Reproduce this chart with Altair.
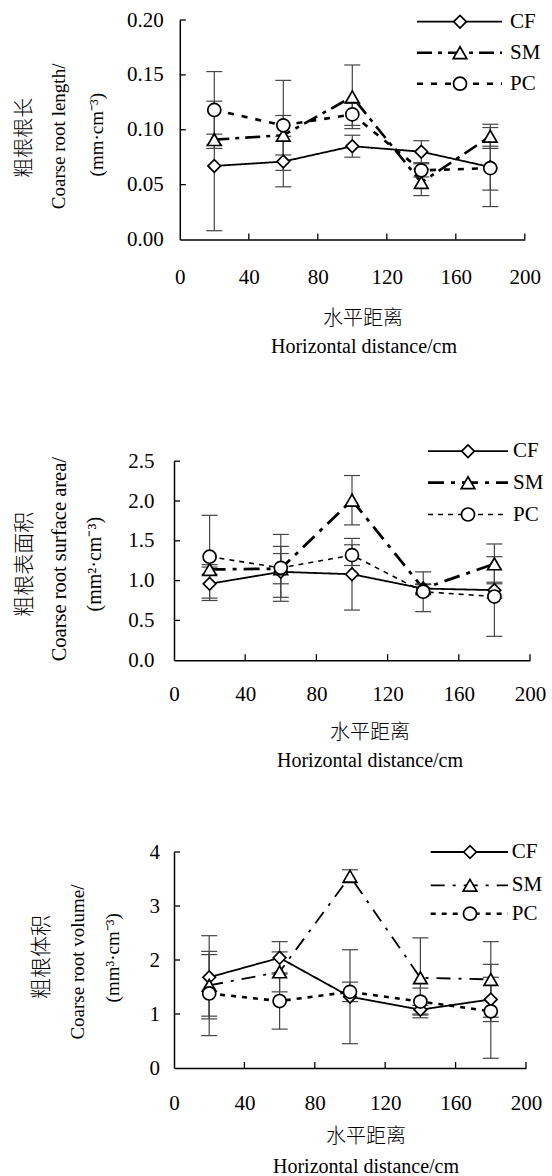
import altair as alt
import pandas as pd

# ---------------- data ----------------
dist = [20, 60, 100, 140, 180]
series_names = ["CF", "SM", "PC"]
x_ticks = [0, 40, 80, 120, 160, 200]

# Panel 1: coarse root length (mm·cm-3)
len_cf = [0.067, 0.071, 0.085, 0.080, 0.066]
len_cf_err = [0.059, 0.023, 0.010, 0.010, 0.036]
len_sm = [0.091, 0.095, 0.130, 0.052, 0.094]
len_sm_err = [0.005, 0.018, 0.029, 0.012, 0.011]
len_pc = [0.118, 0.104, 0.114, 0.063, 0.065]
len_pc_err = [0.035, 0.041, 0.010, 0.006, 0.020]
len_ticks = [0, 0.05, 0.10, 0.15, 0.20]

# Panel 2: coarse root surface area (mm2·cm-3)
area_cf = [0.96, 1.11, 1.08, 0.90, 0.88]
area_cf_err = [0.21, 0.32, 0.45, 0.06, 0.10]
area_sm = [1.14, 1.15, 2.01, 0.90, 1.21]
area_sm_err = [0.06, 0.19, 0.31, 0.05, 0.25]
area_pc = [1.30, 1.16, 1.32, 0.86, 0.80]
area_pc_err = [0.52, 0.42, 0.13, 0.25, 0.50]
area_ticks = [0, 0.5, 1.0, 1.5, 2.0, 2.5]

# Panel 3: coarse root volume (mm3·cm-3)
vol_cf = [1.68, 2.04, 1.32, 1.08, 1.27]
vol_cf_err = [0.77, 0.30, 0.87, 0.08, 0.41]
vol_sm = [1.53, 1.78, 3.55, 1.67, 1.64]
vol_sm_err = [0.57, 0.37, 0.12, 0.74, 0.70]
vol_pc = [1.38, 1.24, 1.41, 1.23, 1.05]
vol_pc_err = [0.78, 0.52, 0.18, 0.25, 0.87]
vol_ticks = [0, 1, 2, 3, 4]

x_title = ["水平距离", "Horizontal distance/cm"]

# ---------------- style ----------------
SERIF = "Liberation Serif"
CJK = "Noto Sans CJK SC"
SHAPES = {"CF": "diamond", "SM": "triangle-up", "PC": "circle"}
SIZES = {"CF": 160, "SM": 185, "PC": 170}

panels_cfg = [
    dict(
        vals=[len_cf, len_sm, len_pc], errs=[len_cf_err, len_sm_err, len_pc_err],
        ticks=len_ticks, ymax=0.20, yfmt=".2f",
        w=351, h=219.5, xr=[5.8, 350.8], yr=[219.5, 0.0],
        ylp=16.5, xlp=38,
        dash={"CF": [1, 0], "SM": [15, 6, 4, 6], "PC": [6, 8]},
        sw={"CF": 1.8, "SM": 2.6, "PC": 2.6},
        leg_x=(243, 328), leg_m=286, leg_t=336, leg_y=[1.7, 32.7, 63.7],
        titles_y=[("粗根根长", -149, 117.7, 20, CJK),
                  ("Coarse root length/", -114.7, 116.4, 19, SERIF),
                  ("(mm·cm⁻³)", -77.3, 114.7, 19, SERIF)],
        titles_x=[(x_title[0], 189, 299, 20, CJK), (x_title[1], 190, 327.4, 20, SERIF)],
        anchor=True,
    ),
    dict(
        vals=[area_cf, area_sm, area_pc], errs=[area_cf_err, area_sm_err, area_pc_err],
        ticks=area_ticks, ymax=2.5, yfmt=".1f",
        w=356, h=229.2, xr=[0.0, 356.0], yr=[229.2, 30.2],
        ylp=20, xlp=34,
        dash={"CF": [1, 0], "SM": [16, 7, 4, 7], "PC": [5, 5]},
        sw={"CF": 1.8, "SM": 2.8, "PC": 1.6},
        leg_x=(254, 334), leg_m=294, leg_t=339, leg_y=[20.2, 51.7, 83.5],
        titles_y=[("粗根表面积", -149.4, 133.2, 21, CJK),
                  ("Coarse root surface area/", -114, 128.2, 20.5, SERIF),
                  ("(mm²·cm⁻³)", -79, 133.2, 20, SERIF)],
        titles_x=[(x_title[0], 196, 302.2, 20, CJK), (x_title[1], 196, 330.2, 20, SERIF)],
        anchor=False,
    ),
    dict(
        vals=[vol_cf, vol_sm, vol_pc], errs=[vol_cf_err, vol_sm_err, vol_pc_err],
        ticks=vol_ticks, ymax=4, yfmt="d",
        w=352, h=216, xr=[0.0, 352.0], yr=[216, 0.0],
        ylp=14.5, xlp=35,
        dash={"CF": [1, 0], "SM": [14, 8, 3, 8], "PC": [5, 6]},
        sw={"CF": 1.8, "SM": 1.8, "PC": 2.6},
        leg_x=(256.7, 334), leg_m=296, leg_t=337.7, leg_y=[0, 33.3, 61.7],
        titles_y=[("粗根体积", -131.7, 105, 21, CJK),
                  ("Coarse root volume/", -96.5, 110, 19, SERIF),
                  ("(mm³·cm⁻³)", -61.3, 105.8, 19, SERIF)],
        titles_x=[(x_title[0], 192, 285, 20, CJK), (x_title[1], 192, 314.5, 20, SERIF)],
        anchor=False,
    ),
]

one = pd.DataFrame({"k": [0]})


def build_panel(cfg):
    rows = []
    for s, vals, es in zip(series_names, cfg["vals"], cfg["errs"]):
        for d, v, e in zip(dist, vals, es):
            rows.append({"dist": d, "value": v, "lo": v - e, "hi": v + e, "series": s})
    df = pd.DataFrame(rows)

    xs = alt.Scale(domain=[0, 200], range=cfg["xr"], nice=False, zero=False)
    ys = alt.Scale(domain=[0, cfg["ymax"]], range=cfg["yr"], nice=False, zero=False)

    x_axis = alt.Axis(values=x_ticks, title=None, grid=False, ticks=False, tickSize=0,
                      labelPadding=cfg["xlp"], labelBaseline="middle", labelFlush=False,
                      labelOverlap=False, labelFont=SERIF, labelFontSize=21,
                      labelColor="black", domainColor="black", domainWidth=1.5, format="d")
    y_axis = alt.Axis(values=cfg["ticks"], title=None, grid=False, ticks=False, tickSize=0,
                      labelPadding=cfg["ylp"], labelFlush=False, labelOverlap=False,
                      labelFont=SERIF, labelFontSize=21, labelColor="black",
                      domainColor="black", domainWidth=1.5, format=cfg["yfmt"],
                      offset=-cfg["xr"][0])

    def X(f):
        return alt.X(f, scale=xs, axis=x_axis)

    def Y(f):
        return alt.Y(f, scale=ys, axis=y_axis)

    base = alt.Chart(df)
    layers = []

    # lines
    for s in series_names:
        layers.append(base.transform_filter(alt.datum.series == s).mark_line(
            color="black", strokeWidth=cfg["sw"][s], strokeDash=cfg["dash"][s]).encode(
            x=X("dist:Q"), y=Y("value:Q")))

    # error bars
    layers.append(base.mark_rule(color="#444", strokeWidth=1.2).encode(
        x=X("dist:Q"), y=Y("lo:Q"), y2="hi:Q"))
    for f in ["lo", "hi"]:
        layers.append(base.mark_tick(color="#444", orient="horizontal", size=16,
                                     thickness=1.2, opacity=1).encode(
            x=X("dist:Q"), y=Y(f + ":Q")))

    # markers
    for s in series_names:
        layers.append(base.transform_filter(alt.datum.series == s).mark_point(
            shape=SHAPES[s], size=SIZES[s], filled=True, fill="white", stroke="black",
            strokeWidth=1.7, opacity=1).encode(
            x=X("dist:Q"), y=Y("value:Q")))

    # inward axis ticks
    ytk = pd.DataFrame({"v": [t for t in cfg["ticks"] if t != 0]})
    layers.append(alt.Chart(ytk).mark_rule(color="black", strokeWidth=1.3).encode(
        y=Y("v:Q"), x=alt.value(cfg["xr"][0]), x2=alt.value(cfg["xr"][0] + 6)))
    xtk = pd.DataFrame({"v": [t for t in x_ticks if t != 0]})
    layers.append(alt.Chart(xtk).mark_rule(color="black", strokeWidth=1.3).encode(
        x=X("v:Q"), y=alt.value(cfg["h"]), y2=alt.value(cfg["h"] - 6)))

    # legend
    for i, s in enumerate(series_names):
        ly = cfg["leg_y"][i]
        layers.append(alt.Chart(one).mark_rule(
            color="black", strokeWidth=cfg["sw"][s], strokeDash=cfg["dash"][s]).encode(
            x=alt.value(cfg["leg_x"][0]), x2=alt.value(cfg["leg_x"][1]), y=alt.value(ly)))
        layers.append(alt.Chart(one).mark_point(
            shape=SHAPES[s], size=SIZES[s], filled=True, fill="white", stroke="black",
            strokeWidth=1.7, opacity=1).encode(
            x=alt.value(cfg["leg_m"]), y=alt.value(ly)))
        layers.append(alt.Chart(one).mark_text(
            align="left", baseline="middle", font=SERIF, fontSize=21, color="black").encode(
            x=alt.value(cfg["leg_t"]), y=alt.value(ly), text=alt.value(s)))

    # axis titles
    for txt, tx, ty, fs, font in cfg["titles_y"]:
        layers.append(alt.Chart(one).mark_text(
            align="center", baseline="middle", angle=270, font=font, fontSize=fs,
            fontWeight=300, color="black").encode(
            x=alt.value(tx), y=alt.value(ty), text=alt.value(txt)))
    for txt, tx, ty, fs, font in cfg["titles_x"]:
        layers.append(alt.Chart(one).mark_text(
            align="center", baseline="middle", font=font, fontSize=fs,
            fontWeight=300, color="black").encode(
            x=alt.value(tx), y=alt.value(ty), text=alt.value(txt)))

    if cfg["anchor"]:
        layers.append(alt.Chart(one).mark_rule(strokeOpacity=0).encode(
            x=alt.value(-174), x2=alt.value(-173), y=alt.value(-19.3)))

    return alt.layer(*layers).properties(width=cfg["w"], height=cfg["h"])


panels = [build_panel(c) for c in panels_cfg]

chart = alt.vconcat(*panels, spacing=191, bounds="flush").properties(
    padding=0, background="white"
).configure_view(stroke=None)

chart.save("out.html", embed_options={"renderer": "svg", "actions": False})
